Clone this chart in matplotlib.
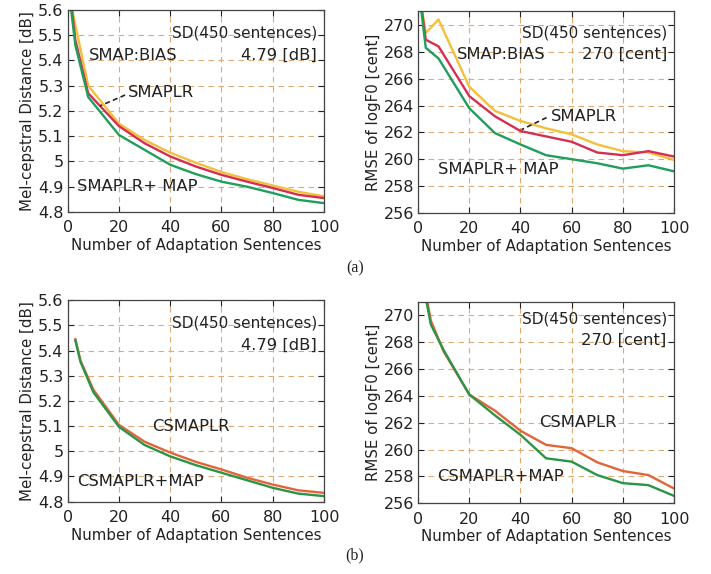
import matplotlib
matplotlib.use("Agg")
import matplotlib.pyplot as plt

# ---------- data ----------
x_a = [1, 3, 8, 20, 30, 40, 50, 60, 70, 80, 90, 100]
mcd_bias = [5.64, 5.54, 5.30, 5.150, 5.085, 5.035, 4.995, 4.958, 4.930, 4.905, 4.880, 4.862]
mcd_smaplr = [5.66, 5.48, 5.27, 5.140, 5.072, 5.020, 4.980, 4.947, 4.920, 4.895, 4.868, 4.855]
mcd_smaplr_map = [5.63, 5.46, 5.255, 5.105, 5.046, 4.987, 4.950, 4.920, 4.900, 4.875, 4.848, 4.835]

f0_bias = [271.8, 269.4, 270.4, 265.4, 263.6, 262.85, 262.3, 261.85, 261.1, 260.6, 260.5, 259.95]
f0_smaplr = [271.8, 268.9, 268.4, 264.7, 263.2, 262.1, 261.7, 261.3, 260.5, 260.3, 260.6, 260.2]
f0_smaplr_map = [271.5, 268.3, 267.5, 263.8, 261.95, 261.1, 260.3, 260.0, 259.7, 259.3, 259.55, 259.1]

x_b = [3, 5, 10, 20, 30, 40, 50, 60, 70, 80, 90, 100]
mcd_csmaplr = [5.445, 5.36, 5.245, 5.105, 5.038, 4.995, 4.958, 4.928, 4.895, 4.868, 4.845, 4.835]
mcd_csmaplr_map = [5.440, 5.355, 5.235, 5.097, 5.025, 4.980, 4.945, 4.915, 4.885, 4.855, 4.832, 4.822]

f0_csmaplr = [271.6, 269.6, 267.3, 264.1, 262.9, 261.4, 260.35, 260.1, 259.05, 258.4, 258.1, 257.1]
f0_csmaplr_map = [271.3, 269.3, 267.4, 264.1, 262.55, 261.1, 259.35, 259.1, 258.1, 257.5, 257.35, 256.55]

mcd_ticks = [4.8, 4.9, 5.0, 5.1, 5.2, 5.3, 5.4, 5.5, 5.6]
mcd_ticklabels = ["4.8", "4.9", "5", "5.1", "5.2", "5.3", "5.4", "5.5", "5.6"]
f0_ticks = [256, 258, 260, 262, 264, 266, 268, 270]
x_ticks = [0, 20, 40, 60, 80, 100]

YELLOW = "#f4bf3a"
RED = "#d42f52"
GREEN = "#1f9e5c"
ORANGE = "#e4643a"
GREEN_B = "#2c9447"
GRID = "#dfaa72"
TXT = "#222222"
FS_IN = 11.8   # curve labels inside the axes
FS_SD = 11.0   # SD note

plt.rcParams["font.family"] = "DejaVu Sans"
plt.rcParams["font.size"] = 10.5

fig = plt.figure(figsize=(7.11, 5.74), dpi=100)

ax1 = fig.add_axes([0.0952, 0.6307, 0.3605, 0.352])
ax2 = fig.add_axes([0.588, 0.629, 0.360, 0.351])
ax3 = fig.add_axes([0.0952, 0.126, 0.3605, 0.351])
ax4 = fig.add_axes([0.588, 0.1232, 0.360, 0.351])


def style(ax, ylab, ylim, yticks):
    ax.set_xlim(0, 100)
    ax.set_ylim(*ylim)
    ax.set_xticks(x_ticks)
    ax.set_yticks(yticks)
    ax.grid(True, color=GRID, linestyle=(0, (5, 4)), linewidth=0.8)
    ax.tick_params(direction="in", top=True, right=True, length=4,
                   width=0.8, labelsize=11.5, colors=TXT)
    ax.tick_params(axis="x", pad=6)
    ax.tick_params(axis="y", pad=3)
    for s in ax.spines.values():
        s.set_color("#444444")
        s.set_linewidth(0.9)
    ax.set_xlabel("Number of Adaptation Sentences", fontsize=10.8,
                  color=TXT, labelpad=2)
    ax.set_ylabel(ylab, fontsize=10.8, color=TXT, labelpad=2)


# ---------- (a) mel-cepstral ----------
ax1.plot(x_a, mcd_bias, color=YELLOW, lw=1.7)
ax1.plot(x_a, mcd_smaplr, color=RED, lw=1.7)
ax1.plot(x_a, mcd_smaplr_map, color=GREEN, lw=1.7)
style(ax1, "Mel-cepstral Distance [dB]", (4.8, 5.6), mcd_ticks)
ax1.set_yticklabels(mcd_ticklabels)
ax1.text(97.3, 5.51, "SD(450 sentences)", ha="right", va="center", color=TXT, fontsize=FS_SD)
ax1.text(97.3, 5.42, "4.79 [dB]", ha="right", va="center", color=TXT, fontsize=FS_IN)
ax1.text(8.3, 5.42, "SMAP:BIAS", ha="left", va="center", color=TXT, fontsize=FS_IN)
ax1.text(23.5, 5.275, "SMAPLR", ha="left", va="center", color=TXT, fontsize=FS_IN)
ax1.plot([22.4, 12.6], [5.263, 5.22], color="#222222", lw=1.2, ls=(0, (3, 2)))
ax1.text(3.6, 4.90, "SMAPLR+ MAP", ha="left", va="center", color=TXT, fontsize=FS_IN)

# ---------- (a) log F0 ----------
ax2.plot(x_a, f0_bias, color=YELLOW, lw=1.7)
ax2.plot(x_a, f0_smaplr, color=RED, lw=1.7)
ax2.plot(x_a, f0_smaplr_map, color=GREEN, lw=1.7)
style(ax2, "RMSE of logF0 [cent]", (256, 271), f0_ticks)
ax2.text(97.5, 269.4, "SD(450 sentences)", ha="right", va="center", color=TXT, fontsize=FS_SD)
ax2.text(97.5, 267.8, "270 [cent]", ha="right", va="center", color=TXT, fontsize=FS_IN)
ax2.text(15.1, 267.8, "SMAP:BIAS", ha="left", va="center", color=TXT, fontsize=FS_IN)
ax2.text(51.8, 263.2, "SMAPLR", ha="left", va="center", color=TXT, fontsize=FS_IN)
ax2.plot([50.2, 40.4], [263.1, 262.2], color="#222222", lw=1.2, ls=(0, (3, 2)))
ax2.text(7.6, 259.2, "SMAPLR+ MAP", ha="left", va="center", color=TXT, fontsize=FS_IN)

# ---------- (b) mel-cepstral ----------
ax3.plot(x_b, mcd_csmaplr, color=ORANGE, lw=1.7)
ax3.plot(x_b, mcd_csmaplr_map, color=GREEN_B, lw=1.7)
style(ax3, "Mel-cepstral Distance [dB]", (4.8, 5.6), mcd_ticks)
ax3.set_yticklabels(mcd_ticklabels)
ax3.text(97.3, 5.51, "SD(450 sentences)", ha="right", va="center", color=TXT, fontsize=FS_SD)
ax3.text(97.3, 5.42, "4.79 [dB]", ha="right", va="center", color=TXT, fontsize=FS_IN)
ax3.text(32.9, 5.10, "CSMAPLR", ha="left", va="center", color=TXT, fontsize=FS_IN)
ax3.text(3.6, 4.88, "CSMAPLR+MAP", ha="left", va="center", color=TXT, fontsize=FS_IN)

# ---------- (b) log F0 ----------
ax4.plot(x_b, f0_csmaplr, color=ORANGE, lw=1.7)
ax4.plot(x_b, f0_csmaplr_map, color=GREEN_B, lw=1.7)
style(ax4, "RMSE of logF0 [cent]", (256, 271), f0_ticks)
ax4.text(97.2, 269.7, "SD(450 sentences)", ha="right", va="center", color=TXT, fontsize=FS_SD)
ax4.text(97.2, 268.1, "270 [cent]", ha="right", va="center", color=TXT, fontsize=FS_IN)
ax4.text(47.1, 262.0, "CSMAPLR", ha="left", va="center", color=TXT, fontsize=FS_IN)
ax4.text(7.6, 258.0, "CSMAPLR+MAP", ha="left", va="center", color=TXT, fontsize=FS_IN)

fig.text(355 / 711, 1 - 268 / 574, "(a)", ha="center", va="center",
         family="Liberation Serif", fontsize=11.5, color=TXT)
fig.text(355 / 711, 1 - 555 / 574, "(b)", ha="center", va="center",
         family="Liberation Serif", fontsize=11.5, color=TXT)

fig.savefig("out.png", dpi=100)
